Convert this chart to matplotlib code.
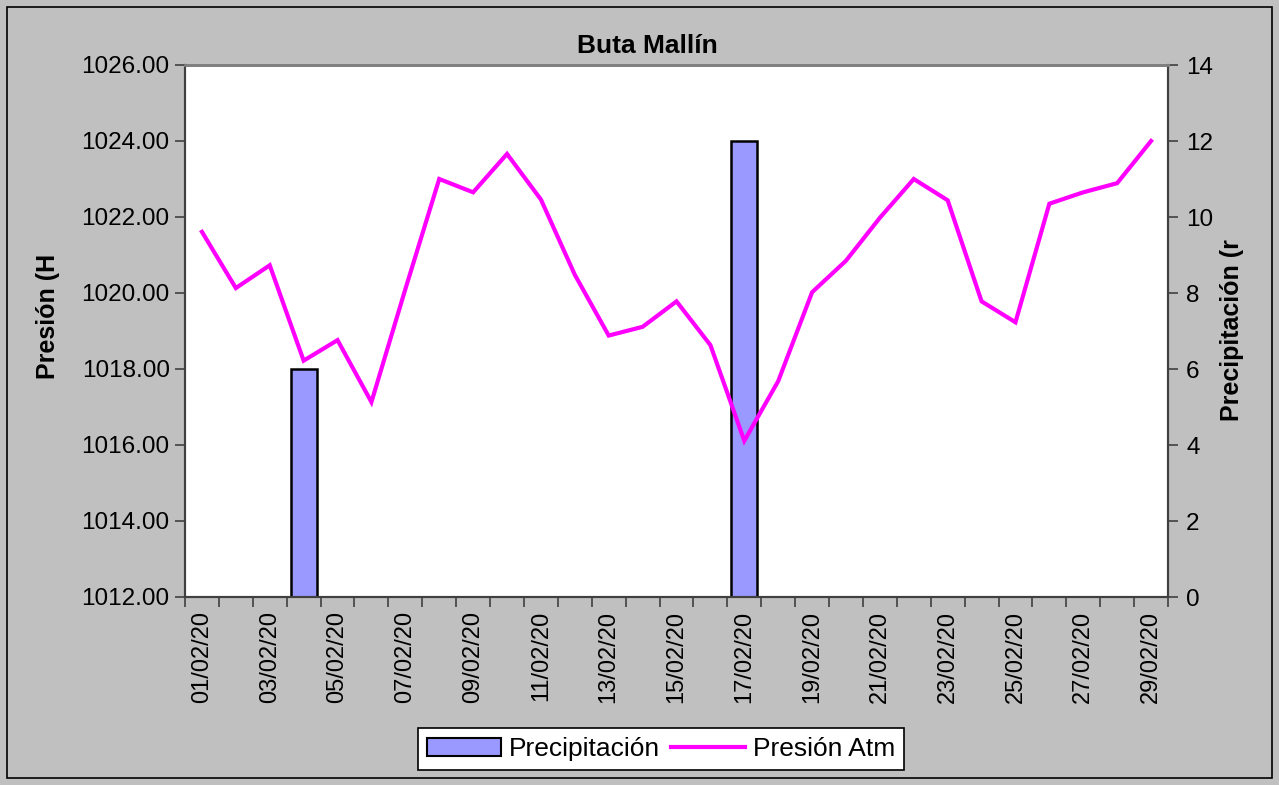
import matplotlib.pyplot as plt
import matplotlib.patches as mpatches
import numpy as np

plt.rcParams['font.family'] = ['Liberation Sans', 'DejaVu Sans']

days = [f"{d:02d}/02/20" for d in range(1, 30)]
presion = [1021.61, 1020.13, 1020.73, 1018.22, 1018.76, 1017.13, 1020.1, 1023.0,
           1022.65, 1023.66, 1022.46, 1020.48, 1018.88, 1019.11, 1019.78, 1018.63,
           1016.11, 1017.68, 1020.02, 1020.85, 1021.98, 1023.0, 1022.44, 1019.78,
           1019.23, 1022.35, 1022.65, 1022.89, 1024.0]
precip = [0, 0, 0, 6, 0, 0, 0, 0, 0, 0, 0, 0, 0, 0, 0, 0,
          12, 0, 0, 0, 0, 0, 0, 0, 0, 0, 0, 0, 0]

GRAY = '#C0C0C0'
fig = plt.figure(figsize=(12.79, 7.85), dpi=100, facecolor=GRAY)
fig.patches.append(mpatches.Rectangle((7/1279, 7/785), 1265/1279, 771/785,
                                      transform=fig.transFigure, fill=False,
                                      edgecolor='black', linewidth=1.2))

ax = fig.add_axes([185/1279, 1-597/785, 983/1279, 532/785])
ax.set_facecolor('white')
ax2 = ax.twinx()
# bars on the right axis, line drawn above
ax.set_zorder(ax2.get_zorder() + 1)
ax.patch.set_visible(False)
ax2.patch.set_visible(True)
ax2.patch.set_facecolor('white')

x = np.arange(len(days))
ax2.bar(x, precip, width=0.77, color='#9999FF', edgecolor='black', linewidth=1.8)
ax.plot(x, presion, color='#FF00FF', linewidth=3.0, solid_joinstyle='miter')

ax.set_xlim(-0.5, len(days) - 0.5)
ax.set_ylim(1012, 1026)
ax2.set_ylim(0, 14)
ax.set_yticks(np.arange(1012, 1027, 2))
ax.set_yticklabels([f"{v:.2f}" for v in range(1012, 1027, 2)])
ax2.set_yticks(np.arange(0, 15, 2))

ax.set_xticks(np.arange(-0.5, len(days), 1))
ax.set_xticklabels([])
ax.set_xticks(x[::2], minor=True)
ax.set_xticklabels(days[::2], minor=True, rotation=90, fontsize=17)
ax.tick_params(axis='x', which='minor', length=0, pad=10)
ax.tick_params(axis='x', which='major', length=7, width=1.2, color='#404040')
ax.tick_params(axis='y', labelsize=17.5, length=7, width=1.2, color='#404040', pad=4)
ax2.tick_params(axis='y', labelsize=17.5, length=7, width=1.2, color='#404040', pad=6)

for a in (ax, ax2):
    a.spines['top'].set_color('#808080')
    a.spines['top'].set_linewidth(2)
    a.spines['left'].set_color('#404040')
    a.spines['right'].set_color('#404040')
    a.spines['bottom'].set_color('#404040')
    for s in ('left', 'right', 'bottom'):
        a.spines[s].set_linewidth(1.5)

fig.text(647/1279, 1-46/785, 'Buta Mallín', ha='center', va='center',
         fontsize=19, fontweight='bold')
fig.text(48/1279, 1-316/785, 'Presión (H', ha='center', va='center',
         rotation=90, fontsize=18, fontweight='bold')
fig.text(1232/1279, 1-330/785, 'Precipitación (r', ha='center', va='center',
         rotation=90, fontsize=18, fontweight='bold')

handles = [mpatches.Patch(facecolor='#9999FF', edgecolor='black', linewidth=1.5),
           plt.Line2D([], [], color='#FF00FF', linewidth=3.0)]
leg = fig.legend(handles, ['Precipitación', 'Presión Atm'], loc='center',
                 bbox_to_anchor=(661/1279, 1-749/785), ncol=2, fontsize=19,
                 frameon=True, fancybox=False, edgecolor='black',
                 facecolor='white', framealpha=1,
                 handlelength=2.8, handletextpad=0.3, columnspacing=0.4,
                 borderpad=0.35, borderaxespad=0)
leg.get_frame().set_linewidth(1.2)

fig.savefig('out.png', dpi=100, facecolor=GRAY)
